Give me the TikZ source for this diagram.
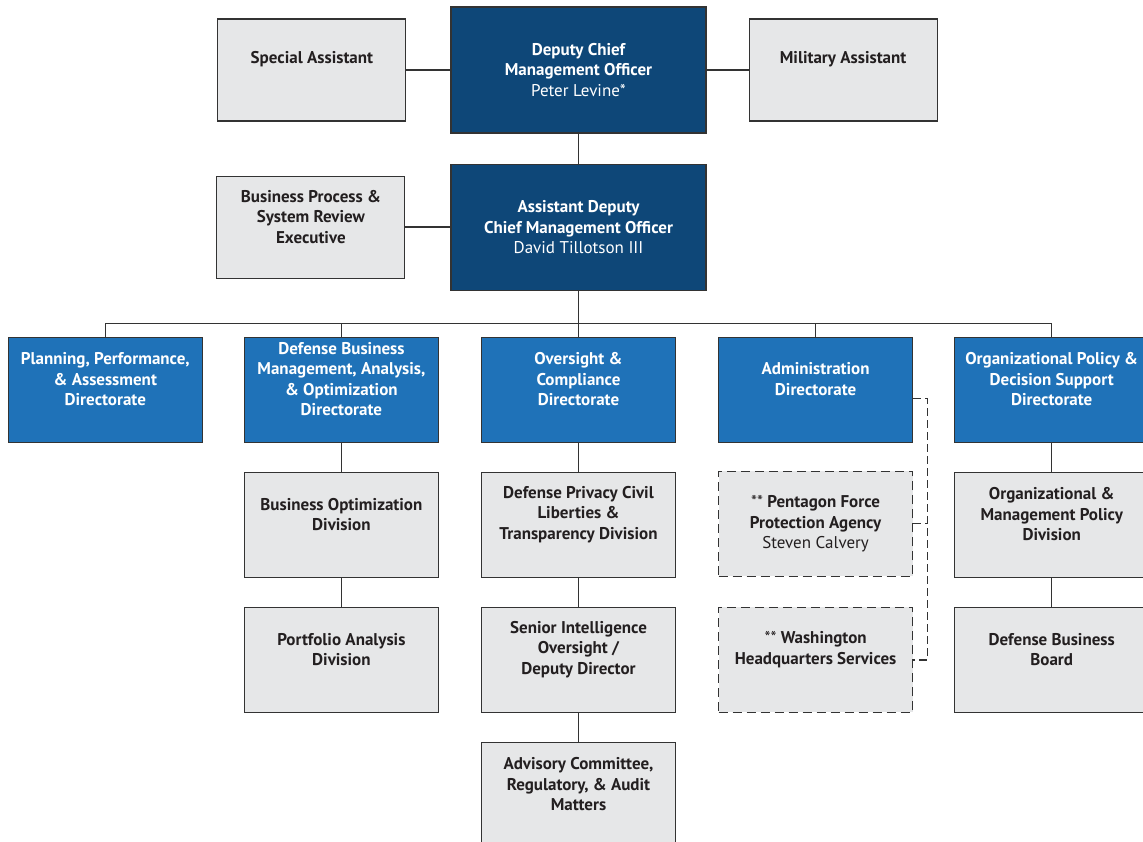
\documentclass[tikz,border=0pt]{standalone}
\usepackage{fontspec}
\setmainfont{PT Sans}
\usepackage{xcolor}
\usetikzlibrary{positioning}

\definecolor{navy}{HTML}{0E4778}
\definecolor{dirblue}{HTML}{1F72B8}
\definecolor{boxgray}{HTML}{E6E7E8}
\definecolor{edge}{HTML}{333333}
\definecolor{ink}{HTML}{231F20}

\tikzset{
    box/.style={draw=edge, line width=1.1pt, minimum width=194pt, minimum height=105pt, inner sep=0pt},
    topbox/.style={box, fill=navy, minimum width=255pt, minimum height=126pt},
    sidebox/.style={box, fill=boxgray, minimum width=188pt, minimum height=102pt},
    dirbox/.style={box, fill=dirblue},
    graybox/.style={box, fill=boxgray},
    dashbox/.style={graybox, dash pattern=on 9pt off 5pt},
    wtxt/.style={text=white, align=center, font=\fontsize{17}{20.5}\selectfont\bfseries},
    btxt/.style={text=ink, align=center, font=\fontsize{17}{20.5}\selectfont\bfseries},
    lift/.style={yshift=10.5pt},
    link/.style={draw=edge, line width=1.2pt},
    dlink/.style={link, dash pattern=on 8pt off 4pt},
}

\begin{document}
\begin{tikzpicture}[x=1pt, y=-1pt]
    \useasboundingbox (0,0) rectangle (1143,842);
    \clip (0,0) rectangle (1143,842);

    \node[topbox] (dcmo) at (578.5,70) {};
    \node[wtxt] (dcmo-t) at (dcmo) {Deputy Chief\\Management Officer\\{\mdseries Peter Levine*}};
    \node[sidebox, left=44pt of dcmo] (sa) {};
    \node[btxt, lift] (sa-t) at (sa) {Special Assistant};
    \node[sidebox, right=42pt of dcmo] (ma) {};
    \node[btxt, lift] (ma-t) at (ma) {Military Assistant};

    \node[topbox, below=30pt of dcmo] (adcmo) {};
    \node[wtxt] (adcmo-t) at (adcmo) {Assistant Deputy\\Chief Management Officer\\{\mdseries David Tillotson III}};
    \node[sidebox, left=45pt of adcmo] (bpsr) {};
    \node[btxt, lift] (bpsr-t) at (bpsr) {Business Process \&\\System Review\\Executive};

    \node[dirbox, below=46pt of adcmo] (oc) {};
    \node[wtxt, lift] (oc-t) at (oc) {Oversight \&\\Compliance\\Directorate};
    \node[dirbox, left=42pt of oc] (dbm) {};
    \node[wtxt, lift] (dbm-t) at (dbm) {Defense Business\\Management, Analysis,\\\& Optimization\\Directorate};
    \node[dirbox, left=41pt of dbm] (ppa) {};
    \node[wtxt, lift] (ppa-t) at (ppa) {Planning, Performance,\\\& Assessment\\Directorate};
    \node[dirbox, right=42pt of oc] (adm) {};
    \node[wtxt, lift] (adm-t) at (adm) {Administration\\Directorate};
    \node[dirbox, right=41pt of adm] (ops) {};
    \node[wtxt, lift] (ops-t) at (ops) {Organizational Policy \&\\Decision Support\\Directorate};

    \node[graybox, below=29pt of dbm] (bod) {};
    \node[btxt, lift] (bod-t) at (bod) {Business Optimization\\Division};
    \node[graybox, below=29pt of bod] (pad) {};
    \node[btxt, lift] (pad-t) at (pad) {Portfolio Analysis\\Division};

    \node[graybox, below=29pt of oc] (dpclt) {};
    \node[btxt, lift] (dpclt-t) at (dpclt) {Defense Privacy Civil\\Liberties \&\\Transparency Division};
    \node[graybox, below=29pt of dpclt] (sio) {};
    \node[btxt, lift] (sio-t) at (sio) {Senior Intelligence\\Oversight /\\Deputy Director};
    \node[graybox, below=29pt of sio] (acram) {};
    \node[btxt, lift] (acram-t) at (acram) {Advisory Committee,\\Regulatory, \& Audit\\Matters};

    \node[dashbox, below=28pt of adm] (pfpa) {};
    \node[btxt] (pfpa-t) at (pfpa) {{\mdseries **} Pentagon Force\\Protection Agency\\{\mdseries Steven Calvery}};
    \node[dashbox, below=30pt of pfpa] (whs) {};
    \node[btxt, lift] (whs-t) at (whs) {{\mdseries **} Washington\\Headquarters Services};

    \node[graybox, below=29pt of ops] (ompd) {};
    \node[btxt, lift] (ompd-t) at (ompd) {Organizational \&\\Management Policy\\Division};
    \node[graybox, below=29pt of ompd] (dbb) {};
    \node[btxt, lift] (dbb-t) at (dbb) {Defense Business\\Board};

    \draw[link] (sa) -- (dcmo);
    \draw[link] (dcmo) -- (ma);
    \draw[link] (dcmo) -- (adcmo);
    \draw[link] (bpsr) -- (adcmo);
    \draw[link] (adcmo.south) -- ++(0,33);
    \draw[link] (ppa.north) -- ++(0,-13) -| (ops.north);
    \foreach \d in {dbm,oc,adm}
        \draw[link] (\d.north) -- ++(0,-13);
    \draw[link] (dbm) -- (bod) -- (pad);
    \draw[link] (oc) -- (dpclt) -- (sio) -- (acram);
    \draw[link] (ops) -- (ompd) -- (dbb);

    \coordinate[right=14pt of adm.east] (spine);
    \draw[dlink] ([yshift=-8.5pt]adm.east) -| (spine |- whs.east) -- (whs.east);
    \draw[dlink] (pfpa.east) -- (spine |- pfpa.east);
\end{tikzpicture}
\end{document}
